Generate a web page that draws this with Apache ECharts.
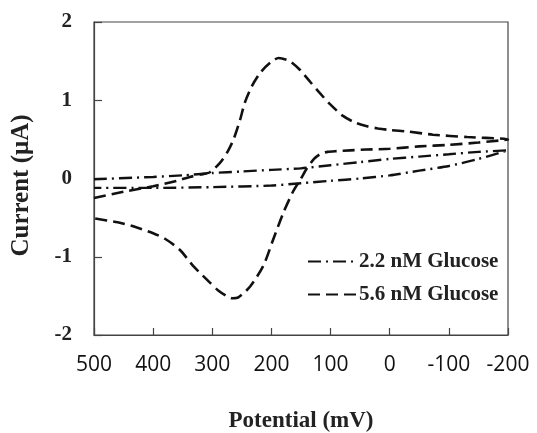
<!DOCTYPE html>
<html>
<head>
<meta charset="utf-8">
<script src="https://cdn.jsdelivr.net/npm/echarts@6/dist/echarts.min.js"></script>
<style>html,body{margin:0;padding:0;background:#fff;}#c{width:537px;height:433px;}</style>
</head>
<body>
<div id="c"></div>
<script>
// Tick labels
const xTicks = [500, 400, 300, 200, 100, 0, -100, -200];
const yTicks = [-2, -1, 0, 1, 2];
const seriesNames = ['2.2 nM Glucose', '5.6 nM Glucose'];

// 2.2 nM Glucose (dash-dot), closed CV loop
const x22 = [500, 400, 350, 300, 250, 200, 150, 100, 50, 0, -50, -100, -150, -200,
             -150, -100, -50, 0, 50, 100, 150, 200, 300, 400, 500];
const y22 = [-0.01, 0.02, 0.04, 0.07, 0.09, 0.11, 0.13, 0.17, 0.21, 0.25, 0.28, 0.31, 0.34, 0.36,
             0.25, 0.16, 0.1, 0.04, 0.0, -0.03, -0.06, -0.09, -0.11, -0.12, -0.12];

// 5.6 nM Glucose (dashed), closed CV loop
const x56 = [500, 450, 400, 360, 338, 320, 304, 287, 275, 264, 253, 245, 233, 219, 202, 188, 169, 152, 135, 118, 101, 79, 60, 40, 20, 0, -30, -73, -131, -200,
             -150, -100, -50, 0, 40, 67, 90, 105, 118, 128, 140, 150, 163, 180, 197, 214, 236, 256, 266, 276, 290, 304, 332, 355, 380, 400, 430, 460, 500];
const y56 = [-0.25, -0.17, -0.1, -0.03, 0.02, 0.05, 0.08, 0.2, 0.33, 0.5, 0.75, 0.97, 1.18, 1.35, 1.48, 1.54, 1.5, 1.39, 1.24, 1.09, 0.95, 0.8, 0.72, 0.67, 0.64, 0.62, 0.6, 0.56, 0.53, 0.5,
             0.46, 0.43, 0.41, 0.38, 0.37, 0.36, 0.35, 0.34, 0.31, 0.25, 0.13, 0.0, -0.16, -0.44, -0.78, -1.12, -1.38, -1.52, -1.53, -1.5, -1.43, -1.33, -1.12, -0.91, -0.77, -0.7, -0.62, -0.56, -0.51];

const zip = (xs, ys) => xs.map((x, i) => [x, ys[i]]);

const chart = echarts.init(document.getElementById('c'));
const serif = '"Liberation Serif", "Times New Roman", serif';
chart.setOption({
  animation: false,
  backgroundColor: '#fff',
  grid: { left: 94, right: 29, top: 22, bottom: 98, show: true, borderColor: '#444', borderWidth: 1.2,
          containLabel: false, outerBoundsMode: 'none' },
  legend: {
    orient: 'vertical', left: 302, top: 246, itemWidth: 50, itemHeight: 14, itemGap: 12,
    data: seriesNames,
    itemStyle: { opacity: 0 },
    textStyle: { fontFamily: serif, fontWeight: 'bold', fontSize: 21, color: '#222', padding: [0, 0, 0, -4] }
  },
  xAxis: {
    type: 'value', inverse: true, min: -200, max: 500, interval: 100,
    name: 'Potential (mV)', nameLocation: 'middle', nameGap: 75,
    nameTextStyle: { fontFamily: serif, fontWeight: 'bold', fontSize: 23, color: '#222' },
    axisLine: { show: true, onZero: false, lineStyle: { color: '#444', width: 1.2 } },
    axisTick: { show: true, inside: true, length: 7, lineStyle: { color: '#444', width: 1.2 } },
    axisLabel: { fontFamily: '"Open Sans", "Noto Sans", sans-serif', fontSize: 21, color: '#111', margin: 20,
      formatter: v => xTicks.includes(v) ? String(v) : '' },
    splitLine: { show: false }
  },
  yAxis: {
    type: 'value', min: -2, max: 2, interval: 1,
    name: 'Current (μA)', nameLocation: 'middle', nameGap: 60,
    nameTextStyle: { fontFamily: serif, fontWeight: 'bold', fontSize: 25, color: '#222', padding: [0, 14, 0, 0] },
    axisLine: { show: true, onZero: false, lineStyle: { color: '#444', width: 1.2 } },
    axisTick: { show: true, inside: true, length: 8, lineStyle: { color: '#444', width: 1.2 } },
    axisLabel: { fontFamily: serif, fontWeight: 'bold', fontSize: 21, color: '#222', margin: 22,
      formatter: v => yTicks.includes(v) ? String(v) : '' },
    splitLine: { show: false }
  },
  series: [
    {
      name: seriesNames[0], type: 'line', data: zip(x22, y22), showSymbol: false, symbol: 'none',
      smooth: 0.25, lineStyle: { color: '#111', width: 2.4, type: [13, 5, 2, 5] }, itemStyle: { color: '#111' }
    },
    {
      name: seriesNames[1], type: 'line', data: zip(x56, y56), showSymbol: false, symbol: 'none',
      smooth: 0.25, lineStyle: { color: '#111', width: 2.6, type: [12, 6] }, itemStyle: { color: '#111' }
    }
  ]
});
</script>
</body>
</html>
